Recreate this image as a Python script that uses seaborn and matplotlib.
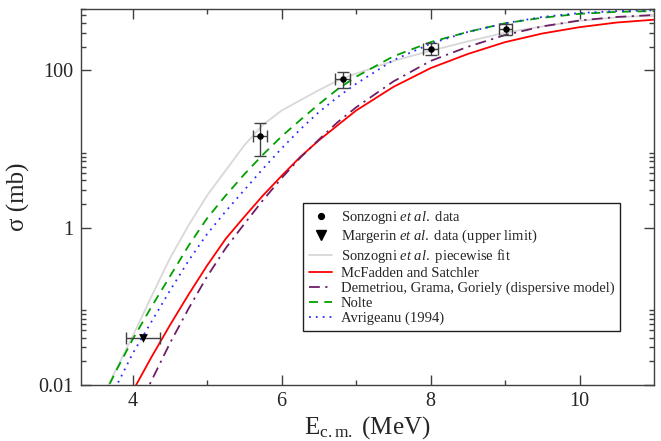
#!/usr/bin/env python3
"""
Alpha-capture cross section vs. c.m. energy: data points and optical-model curves
"""

import matplotlib
matplotlib.use("Agg")
import matplotlib.pyplot as plt
from matplotlib.lines import Line2D
from matplotlib.ticker import FixedLocator, FixedFormatter, NullFormatter
import seaborn as sns

sns.set_style("ticks")
plt.rcParams['font.family'] = ['Liberation Serif', 'DejaVu Serif']
plt.rcParams['mathtext.fontset'] = 'custom'
plt.rcParams['mathtext.rm'] = 'Liberation Serif'
plt.rcParams['mathtext.it'] = 'Liberation Serif:italic'

# measured points (Sonzogni et al.)
sonz_e = [5.71, 6.82, 8.00, 9.01]
sonz_sigma = [14.8, 77.0, 190.0, 333.0]
sonz_sigma_lo = [6.6, 18.0, 33.0, 54.0]
sonz_sigma_hi = [6.4, 18.0, 35.0, 56.0]
sonz_e_err = [0.10, 0.10, 0.10, 0.09]

# upper limit (Margerin et al.)
marg_e = [4.14]
marg_sigma = [0.040]
marg_e_err = [0.23]

# model curves (sigma in mb)
e_grid = [3.6, 3.8, 4.0, 4.25, 4.5, 4.75, 5.0, 5.25, 5.5, 5.75, 6.0, 6.25,
          6.5, 6.75, 7.0, 7.5, 8.0, 8.5, 9.0, 9.5, 10.0, 10.5, 11.0]
fit_sonz = [0.00724, 0.0174, 0.0417, 0.132, 0.407, 1.07, 2.57, 5.37, 11.2,
            20.4, 30.9, 41.7, 56.2, 74.1, 91.2, 132, 178, 234, 302, 363,
            427, 473, 501]
nolte = [0.00692, 0.0166, 0.0380, 0.0977, 0.240, 0.589, 1.32, 2.57, 4.79,
         8.51, 14.5, 23.4, 37.2, 57.5, 83.2, 151, 229, 309, 398, 468,
         525, 556, 569]
avrigeanu = [0.00437, 0.0105, 0.0251, 0.0631, 0.158, 0.380, 0.832, 1.62, 3.02,
             5.62, 10.2, 17.8, 29.5, 45.7, 67.6, 135, 219, 309, 398, 479,
             537, 569, 582]

e_grid_hi = [4.0, 4.25, 4.5, 4.75, 5.0, 5.25, 5.5, 5.75, 6.0, 6.25, 6.5, 6.75,
             7.0, 7.5, 8.0, 8.5, 9.0, 9.5, 10.0, 10.5, 11.0]
mcfadden = [0.00832, 0.0224, 0.0575, 0.141, 0.331, 0.724, 1.38, 2.57, 4.57,
            7.94, 12.9, 20.0, 30.9, 61.7, 107, 162, 229, 295, 355, 407, 442]
demetriou = [0.00355, 0.0112, 0.0339, 0.0933, 0.240, 0.550, 1.12, 2.24, 4.27,
             7.76, 13.2, 21.9, 33.9, 72.4, 132, 200, 282, 363, 432, 479, 507]

curve_styles = [
    (e_grid, fit_sonz, 'Sonzogni $\\mathit{et\\ al.}$ piecewise fit', '#d8d8d8', '-'),
    (e_grid_hi, mcfadden, 'McFadden and Satchler', '#ff0000', '-'),
    (e_grid_hi, demetriou, 'Demetriou, Grama, Goriely (dispersive model)', '#6e1f66', (0, (6, 3, 1.2, 3))),
    (e_grid, nolte, 'Nolte', '#00a000', (0, (5, 3.5))),
    (e_grid, avrigeanu, 'Avrigeanu (1994)', '#2b2bff', (0, (1, 2.8))),
]


def main():
    fig = plt.figure(figsize=(6.61, 4.41), dpi=100)
    ax = fig.add_axes([0.1218, 0.127, 0.8676, 0.852])
    ax.set_yscale('log')

    handles = []
    for xs, ys, label, color, ls in curve_styles:
        sns.lineplot(x=xs, y=ys, ax=ax, color=color, linestyle=ls,
                     linewidth=1.3, sort=False, legend=False)
        handles.append(Line2D([], [], color=color, linestyle=ls, linewidth=1.3, label=label))

    # error bars + markers
    ax.errorbar(sonz_e, sonz_sigma, yerr=[sonz_sigma_lo, sonz_sigma_hi],
                xerr=sonz_e_err, fmt='none', ecolor='#404040', elinewidth=1.0,
                capsize=4.5, capthick=1.0, zorder=4)
    sns.scatterplot(x=sonz_e, y=sonz_sigma, ax=ax, color='black', marker='o',
                    s=22, edgecolor='black', linewidth=0, zorder=5)
    ax.errorbar(marg_e, marg_sigma, xerr=marg_e_err, fmt='none', ecolor='#404040',
                elinewidth=1.0, capsize=4.5, capthick=1.0, zorder=4)
    sns.scatterplot(x=marg_e, y=marg_sigma, ax=ax, color='black', marker='v',
                    s=40, edgecolor='black', linewidth=0, zorder=5)

    point_handles = [
        Line2D([], [], color='black', marker='o', markersize=4.2, linestyle='none',
               label='Sonzogni $\\mathit{et\\ al.}$ data'),
        Line2D([], [], color='black', marker='v', markersize=6.5, linestyle='none',
               label='Margerin $\\mathit{et\\ al.}$ data (upper limit)'),
    ]

    ax.set_xlim(3.3, 11.0)
    ax.set_ylim(0.01, 600)

    ax.xaxis.set_major_locator(FixedLocator([4, 6, 8, 10]))
    ax.xaxis.set_minor_locator(FixedLocator([5, 7, 9]))
    ax.yaxis.set_major_locator(FixedLocator([0.01, 1, 100]))
    ax.yaxis.set_major_formatter(FixedFormatter(['0.01', '1', '100']))
    minor_y = [k * d for d in (0.01, 1, 100) for k in range(2, 10)]
    ax.yaxis.set_minor_locator(FixedLocator(minor_y))
    ax.yaxis.set_minor_formatter(NullFormatter())

    ax.tick_params(which='both', direction='in', top=True, right=True,
                   color='#404040', labelsize=14.5, pad=5)
    ax.tick_params(which='major', length=7, width=1.0)
    ax.tick_params(which='minor', length=3.5, width=1.0)
    for lbl in ax.get_xticklabels() + ax.get_yticklabels():
        lbl.set_family(['Liberation Serif', 'DejaVu Serif'])
    for sp in ax.spines.values():
        sp.set_color('#404040')
        sp.set_linewidth(1.0)

    ax.set_xlabel('E$_{\\mathrm{c.m.}}$ (MeV)', fontsize=18, labelpad=2,
                  family=['Liberation Serif', 'DejaVu Serif'])
    ax.set_ylabel('\u03c3 (mb)', fontsize=18, labelpad=6,
                  family=['Liberation Serif', 'DejaVu Serif'])

    leg = ax.legend(handles=point_handles + handles, loc='upper left',
                    bbox_to_anchor=(0.388, 0.484), fontsize=10.5, frameon=True,
                    fancybox=False, edgecolor='#202020', framealpha=1,
                    handlelength=1.6, handletextpad=0.6, labelspacing=0.12,
                    borderpad=0.4, borderaxespad=0)
    leg.get_frame().set_linewidth(1.0)

    plt.savefig('out.png', dpi=100, facecolor='white')
    plt.close()


if __name__ == "__main__":
    main()
